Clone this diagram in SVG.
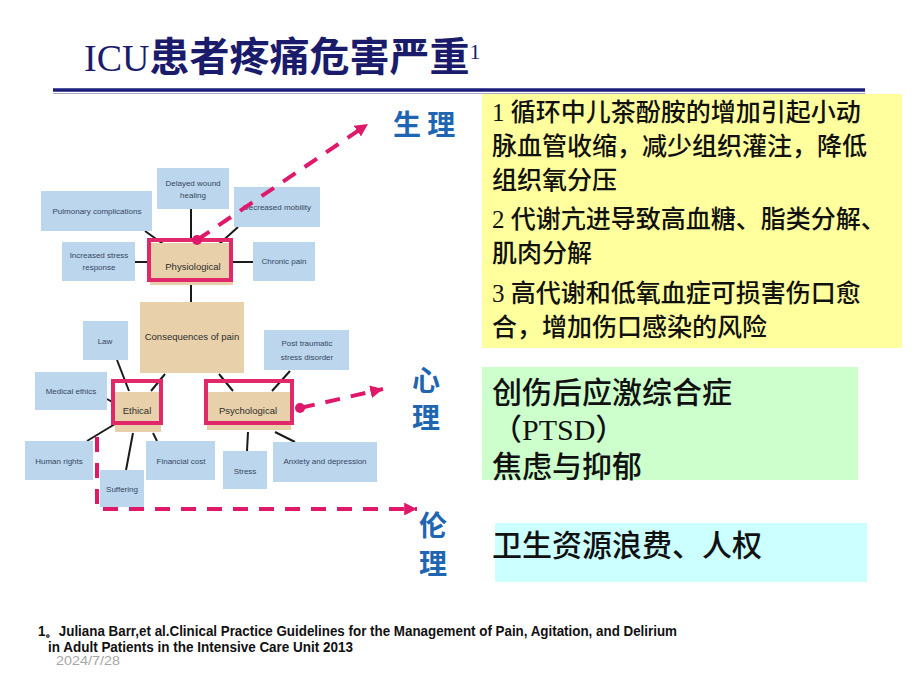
<svg xmlns="http://www.w3.org/2000/svg" width="920" height="690" viewBox="0 0 920 690">
<defs>
<marker id="ah" viewBox="0 0 10 10" refX="10" refY="5" markerWidth="3.2" markerHeight="3.2" orient="auto" markerUnits="strokeWidth">
<path d="M0,0 L10,5 L0,10 z" fill="#e0186a"/>
</marker>
<style>
.bx{fill:#bcd6ee}
.tn{fill:#e8d1aa}
.fr{fill:none;stroke:#e0286a;stroke-width:4}
.t{font-family:"Liberation Sans",Arial,sans-serif;font-size:8px;fill:#34485e;text-anchor:middle}
.tk{font-family:"Liberation Sans",Arial,sans-serif;font-size:9.5px;fill:#2e2e2e;text-anchor:middle}
.ln{stroke:#1a1a1a;stroke-width:2;fill:none}
.ar{stroke:#e0186a;stroke-width:4;fill:none;stroke-dasharray:15 11}
.lb{font-family:"Noto Sans CJK SC",sans-serif;font-weight:bold;font-size:28px;fill:#1f66b2}
.body{font-family:"Liberation Serif","Noto Sans CJK SC",serif;font-weight:500;fill:#111}
</style>
</defs>
<rect width="920" height="690" fill="#ffffff"/>

<g id="title">
<text x="84" y="71" fill="#1b1b6b" style="font-family:'Liberation Serif','Noto Sans CJK SC',serif"><tspan font-size="38">ICU</tspan><tspan font-size="40" font-weight="bold" style="font-family:'Noto Sans CJK SC',sans-serif">患者疼痛危害严重</tspan><tspan font-size="22" dy="-12">1</tspan></text>
<line x1="53" y1="90" x2="865" y2="90" stroke="#1c1c7a" stroke-width="3.5"/>
<line x1="53" y1="93.5" x2="865" y2="93.5" stroke="#a8a8c0" stroke-width="1.2"/>
</g>

<g id="connectors">
<line class="ln" x1="191" y1="209" x2="191" y2="240"/>
<line class="ln" x1="145" y1="231" x2="166" y2="246"/>
<line class="ln" x1="238" y1="227" x2="217" y2="246"/>
<line class="ln" x1="135" y1="262" x2="148" y2="262"/>
<line class="ln" x1="233" y1="262" x2="253" y2="262"/>
<line class="ln" x1="191" y1="285" x2="191" y2="302"/>
<line class="ln" x1="117" y1="360" x2="129" y2="391"/>
<line class="ln" x1="165" y1="374" x2="151" y2="391"/>
<line class="ln" x1="107" y1="399" x2="114" y2="403"/>
<line class="ln" x1="219" y1="374" x2="233" y2="391"/>
<line class="ln" x1="290" y1="371" x2="272" y2="391"/>
<line class="ln" x1="115" y1="424" x2="87" y2="441"/>
<line class="ln" x1="133" y1="433" x2="126" y2="470"/>
<line class="ln" x1="153" y1="433" x2="157" y2="441"/>
<line class="ln" x1="248" y1="432" x2="247" y2="451"/>
<line class="ln" x1="275" y1="432" x2="295" y2="442"/>
</g>

<g id="n-delayed"><rect class="bx" x="157" y="168" width="72" height="41"/><text class="t" x="193" y="186">Delayed wound</text><text class="t" x="193" y="198">healing</text></g>
<g id="n-pulmonary"><rect class="bx" x="41" y="191" width="111" height="40"/><text class="t" x="97" y="214">Pulmonary complications</text></g>
<g id="n-mobility"><rect class="bx" x="234" y="187" width="86" height="40"/><text class="t" x="277" y="210">Decreased mobility</text></g>
<g id="n-stressresp"><rect class="bx" x="62" y="242" width="73" height="39"/><text class="t" x="99" y="258">Increased stress</text><text class="t" x="99" y="270">response</text></g>
<g id="n-chronic"><rect class="bx" x="253" y="242" width="62" height="39"/><text class="t" x="284" y="264">Chronic pain</text></g>
<g id="n-physiological"><rect class="tn" x="150" y="243" width="83" height="42"/><rect class="fr" x="149" y="240" width="82" height="40"/><text class="tk" x="193" y="270">Physiological</text></g>
<g id="n-consequences"><rect class="tn" x="140" y="302" width="104" height="71"/><text class="tk" x="192" y="340">Consequences of pain</text></g>
<g id="n-law"><rect class="bx" x="83" y="321" width="45" height="39"/><text class="t" x="105" y="344">Law</text></g>
<g id="n-medethics"><rect class="bx" x="35" y="372" width="72" height="38"/><text class="t" x="71" y="394">Medical ethics</text></g>
<g id="n-ptsd"><rect class="bx" x="264" y="330" width="85" height="40"/><text class="t" x="307" y="346">Post traumatic</text><text class="t" x="307" y="360">stress disorder</text></g>
<g id="n-ethical"><rect class="tn" x="115" y="392" width="46" height="40"/><rect class="fr" x="113" y="381" width="48" height="42"/><text class="tk" x="137" y="414">Ethical</text></g>
<g id="n-psychological"><rect class="tn" x="207" y="392" width="84" height="38"/><rect class="fr" x="206" y="381" width="86" height="42"/><text class="tk" x="248" y="414">Psychological</text></g>
<g id="n-human"><rect class="bx" x="25" y="441" width="68" height="39"/><text class="t" x="59" y="464">Human rights</text></g>
<g id="n-suffering"><rect class="bx" x="100" y="470" width="44" height="37"/><text class="t" x="122" y="492">Suffering</text></g>
<g id="n-financial"><rect class="bx" x="146" y="441" width="69" height="39"/><text class="t" x="181" y="464">Financial cost</text></g>
<g id="n-stress"><rect class="bx" x="223" y="451" width="44" height="38"/><text class="t" x="245" y="474">Stress</text></g>
<g id="n-anxiety"><rect class="bx" x="273" y="442" width="104" height="40"/><text class="t" x="325" y="464">Anxiety and depression</text></g>

<g id="arrows">
<circle cx="197" cy="240" r="5" fill="#e0186a"/>
<line class="ar" x1="197" y1="240" x2="368" y2="124" marker-end="url(#ah)"/>
<circle cx="300" cy="408" r="5" fill="#e0186a"/>
<line class="ar" x1="300" y1="408" x2="383" y2="389" marker-end="url(#ah)"/>
<path class="ar" d="M97,437 V509 H417" marker-end="url(#ah)"/>
</g>

<g id="label-physio"><text class="lb" x="393" y="135">生 理</text></g>
<g id="label-psych"><text class="lb" x="412" y="391">心</text><text class="lb" x="412" y="428">理</text></g>
<g id="label-ethic"><text class="lb" x="419" y="536">伦</text><text class="lb" x="419" y="574">理</text></g>

<g id="box-physio">
<rect x="482" y="94" width="420" height="254" fill="#ffff9e"/>
<text class="body" font-size="25">
<tspan x="492" y="121">1 循环中儿茶酚胺的增加引起小动</tspan>
<tspan x="492" y="155">脉血管收缩，减少组织灌注，降低</tspan>
<tspan x="492" y="189">组织氧分压</tspan>
<tspan x="492" y="228">2 代谢亢进导致高血糖、脂类分解、</tspan>
<tspan x="492" y="262">肌肉分解</tspan>
<tspan x="492" y="302">3 高代谢和低氧血症可损害伤口愈</tspan>
<tspan x="492" y="336">合，增加伤口感染的风险</tspan>
</text>
</g>

<g id="box-psych">
<rect x="482" y="367" width="376" height="113" fill="#ccffcc"/>
<text class="body" font-size="30">
<tspan x="492" y="403">创伤后应激综合症</tspan>
<tspan x="492" y="440">（PTSD）</tspan>
<tspan x="492" y="477">焦虑与抑郁</tspan>
</text>
</g>

<g id="box-ethic">
<rect x="495" y="523" width="372" height="59" fill="#ccffff"/>
<text class="body" font-size="30" x="492" y="556">卫生资源浪费、人权</text>
</g>

<g id="footnote">
<text x="38" y="636" font-family="'Liberation Sans',Arial,sans-serif" font-weight="bold" font-size="14" fill="#111" textLength="639" lengthAdjust="spacingAndGlyphs">1。Juliana Barr,et al.Clinical Practice Guidelines for the Management of Pain, Agitation, and Delirium</text>
<text x="48" y="652" font-family="'Liberation Sans',Arial,sans-serif" font-weight="bold" font-size="14" fill="#111" textLength="305" lengthAdjust="spacingAndGlyphs">in Adult Patients in the Intensive Care Unit 2013</text>
<text x="56" y="665" font-family="'Liberation Sans',Arial,sans-serif" font-size="13" fill="#a6a6a6" textLength="64" lengthAdjust="spacingAndGlyphs">2024/7/28</text>
</g>
</svg>
